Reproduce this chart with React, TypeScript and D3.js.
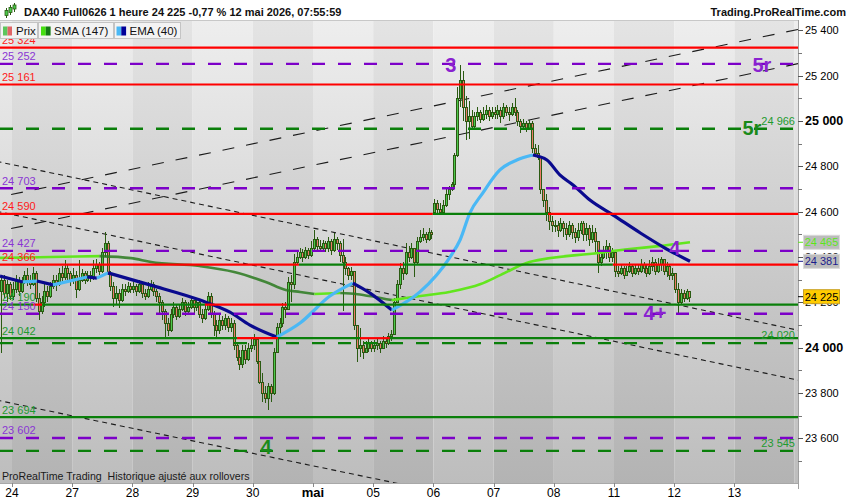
import React from "react";
import * as d3 from "d3";

// ---------- DATA ----------
const dayLabels = ["24", "27", "28", "29", "30", "mai", "05", "06", "07", "08", "11", "12", "13"];
const boldDayLabels = ["mai"];
const PRE_BARS = 4; // last bars of 23 avr visible at the left
const BARS_PER_DAY = 21;

const firstOpen = 24250;
const openOverrides: [number, number][] = [[151, 24600]]; // opening gap of 6 mai

const closes = [
  24300, 24240, 24280, 24230,
  24260, 24300, 24250, 24290, 24320, 24300, 24280, 24330, 24220, 24160, 24200, 24250, 24230, 24270, 24300, 24280, 24330, 24310, 24350, 24330, 24300,
  24320, 24260, 24300, 24330, 24300, 24320, 24310, 24350, 24370, 24340, 24420, 24460, 24330, 24270, 24220, 24240, 24210, 24260, 24250, 24270, 24260,
  24270, 24250, 24280, 24240, 24230, 24260, 24280, 24250, 24230, 24200, 24160, 24110, 24080, 24150, 24180, 24140, 24170, 24200, 24160, 24180, 24210,
  24180, 24200, 24150, 24130, 24170, 24230, 24150, 24100, 24080, 24120, 24100, 24130, 24090, 24110, 24010, 23960, 23930, 23990, 23950, 24000, 24010,
  24040, 23940, 23850, 23800, 23780, 23830, 23800, 23980, 24090, 24110, 24180, 24170, 24290, 24280, 24380, 24400, 24420, 24400, 24430, 24410, 24440,
  24480, 24450, 24440, 24460, 24440, 24470, 24430, 24480, 24460, 24410, 24380, 24350, 24320, 24340, 24100, 24000, 24010, 23980, 24000, 24020, 24000,
  24010, 24020, 24000, 24030, 24020, 24050, 24060, 24200, 24280, 24350, 24330, 24420, 24400, 24440, 24380, 24470, 24490, 24500, 24480, 24510, 24500,
  24640, 24610, 24600, 24630, 24680, 24700, 24720, 24850, 25100, 25180, 25060, 25000, 25020, 24980, 25020, 25040, 25010, 25030, 25050, 25020, 25040,
  25030, 25050, 25020, 25060, 25040, 25030, 25060, 25040, 25000, 24980, 24990, 24970, 24990, 24880, 24860, 24840, 24700, 24650, 24600, 24560, 24540,
  24540, 24520, 24550, 24530, 24500, 24540, 24510, 24490, 24520, 24550, 24500, 24530, 24480, 24510, 24470, 24380, 24400, 24420, 24450, 24400, 24420,
  24340, 24330, 24350, 24320, 24340, 24360, 24330, 24350, 24340, 24370, 24350, 24330, 24360, 24380, 24340, 24370, 24390, 24340, 24360, 24320, 24330,
  24260, 24200, 24240, 24220, 24250, 24225,
];

const highs = [
  24310, 24320, 24300, 24290,
  24290, 24320, 24310, 24310, 24340, 24350, 24320, 24355, 24340, 24240, 24230, 24280, 24270, 24290, 24320, 24320, 24350, 24360, 24385, 24370, 24340,
  24350, 24340, 24385, 24345, 24340, 24340, 24340, 24385, 24390, 24380, 24440, 24510, 24470, 24340, 24290, 24270, 24260, 24280, 24280, 24290, 24285,
  24290, 24280, 24300, 24290, 24260, 24290, 24300, 24290, 24260, 24240, 24210, 24170, 24130, 24170, 24200, 24190, 24190, 24220, 24210, 24200, 24230,
  24210, 24220, 24210, 24170, 24190, 24245, 24240, 24160, 24120, 24150, 24140, 24150, 24140, 24130, 24120, 24020, 23990, 24010, 24010, 24020, 24040,
  24060, 24045, 23940, 23890, 23830, 23845, 23840, 24000, 24110, 24130, 24195, 24200, 24310, 24320, 24415, 24420, 24440, 24435, 24445, 24440, 24470,
  24520, 24490, 24475, 24475, 24470, 24490, 24480, 24505, 24490, 24470, 24480, 24400, 24355, 24355, 24340, 24100, 24085, 24030, 24030, 24040, 24030,
  24035, 24040, 24030, 24050, 24040, 24065, 24080, 24220, 24300, 24375, 24380, 24460, 24450, 24460, 24440, 24490, 24520, 24530, 24510, 24530, 24520,
  24655, 24650, 24640, 24650, 24700, 24715, 24730, 24860, 25150, 25247, 25220, 25110, 25090, 25050, 25040, 25060, 25050, 25060, 25070, 25060, 25060,
  25060, 25070, 25060, 25080, 25070, 25060, 25080, 25100, 25050, 25010, 25010, 25000, 25005, 25000, 24900, 24895, 24840, 24700, 24680, 24620, 24580,
  24565, 24560, 24570, 24560, 24550, 24560, 24550, 24530, 24550, 24560, 24560, 24550, 24540, 24540, 24530, 24470, 24430, 24450, 24475, 24460, 24440,
  24380, 24360, 24370, 24360, 24360, 24380, 24370, 24370, 24370, 24390, 24380, 24370, 24385, 24400, 24390, 24395, 24400, 24390, 24380, 24370, 24350,
  24300, 24285, 24260, 24255, 24260, 24250,
];

const lows = [
  23975, 24220, 24200, 24210,
  24210, 24240, 24230, 24240, 24280, 24270, 24260, 24270, 24200, 24120, 24150, 24180, 24200, 24220, 24260, 24250, 24270, 24290, 24300, 24300, 24270,
  24280, 24220, 24250, 24290, 24280, 24290, 24290, 24300, 24330, 24320, 24330, 24400, 24320, 24250, 24180, 24190, 24175, 24200, 24230, 24240, 24240,
  24240, 24230, 24240, 24220, 24210, 24220, 24250, 24230, 24200, 24150, 24120, 24040, 24050, 24070, 24130, 24120, 24130, 24160, 24140, 24150, 24170,
  24150, 24160, 24130, 24110, 24120, 24160, 24130, 24050, 24040, 24060, 24080, 24080, 24070, 24070, 23990, 23940, 23900, 23910, 23930, 23940, 23980,
  23990, 23930, 23840, 23760, 23755, 23725, 23760, 23790, 23975, 24060, 24090, 24130, 24170, 24200, 24260, 24370, 24390, 24380, 24390, 24390, 24400,
  24430, 24420, 24420, 24430, 24420, 24420, 24410, 24420, 24430, 24380, 24160, 24320, 24300, 24300, 24080, 23935, 23960, 23950, 23975, 23980, 23980,
  23980, 23990, 23975, 23995, 24000, 24010, 24030, 24060, 24195, 24260, 24300, 24320, 24380, 24390, 24310, 24370, 24460, 24470, 24460, 24470, 24480,
  24595, 24595, 24590, 24595, 24620, 24650, 24690, 24710, 24840, 25060, 25000, 24915, 24920, 24960, 24970, 25000, 24990, 25000, 25010, 25000, 25010,
  25010, 25010, 24990, 25010, 25020, 25000, 25020, 25020, 24980, 24945, 24960, 24950, 24960, 24860, 24840, 24830, 24680, 24620, 24560, 24520, 24510,
  24510, 24490, 24510, 24490, 24475, 24490, 24480, 24460, 24470, 24500, 24470, 24470, 24450, 24460, 24420, 24330, 24360, 24390, 24390, 24380, 24380,
  24310, 24310, 24320, 24305, 24315, 24330, 24310, 24320, 24320, 24330, 24330, 24310, 24320, 24340, 24320, 24330, 24340, 24320, 24310, 24300, 24300,
  24240, 24145, 24190, 24200, 24210, 24200,
];

// SMA(147) and EMA(40): [bar, value]
const smaPoints: [number, number][] = [
  [-0.7, 24396], [17, 24400], [34, 24404], [45, 24395], [52, 24378], [69, 24360], [81, 24334], [92, 24290],
  [99, 24255], [104, 24246], [109, 24237], [118, 24241], [124, 24236], [130, 24224], [136, 24210], [146, 24228],
  [156, 24246], [167, 24281], [174, 24321], [184, 24378], [208, 24418], [219, 24435], [229, 24448], [240, 24465],
];
const emaPoints: [number, number][] = [
  [-0.7, 24316], [7.3, 24290], [12.2, 24294], [17.8, 24277], [29.7, 24312], [33.1, 24307], [37, 24330], [51.6, 24277],
  [69.1, 24210], [79.5, 24157], [86.5, 24100], [95.9, 24047], [104, 24109], [114.4, 24228], [122.4, 24285], [128.4, 24241],
  [136, 24166], [145.8, 24246], [156.3, 24400], [159.8, 24475], [163.2, 24594], [167.7, 24682], [173.7, 24784], [179.6, 24828],
  [185.2, 24850], [190.1, 24828], [194.6, 24762], [199.2, 24718], [205.1, 24651], [213.2, 24585], [222.7, 24506], [230.7, 24444],
  [240, 24381],
];

// support / resistance levels
const solidLevels = [25324, 25161, 24590, 24366, 24190, 24042, 23694];
const solidLevelChanges: [number, "up" | "down"][][] = [
  [[-9, "down"]],
  [[-9, "down"]],
  [[-9, "down"], [150.3, "up"], [190.5, "down"]],
  [[-9, "down"], [103.6, "up"], [120.0, "down"], [139.9, "up"], [213.1, "down"]],
  [[-9, "up"], [10.8, "down"], [14.0, "up"], [70.8, "down"], [99.4, "up"]],
  [[-9, "up"], [82.0, "down"], [96.3, "up"], [124.9, "down"], [135.3, "up"]],
  [[-9, "up"]],
];
const purpleLevels = [25252, 24703, 24427, 24150, 23602];
const greenDashLevels = [24966, 24020, 23545];

// trend lines: [bar1, price1, bar2, price2, style]
const trendLines: [number, number, number, number, "long" | "short"][] = [
  [0, 24667, 277, 25402, "long"],
  [0, 24517, 277, 25251, "long"],
  [0, 24817, 277, 24079, "short"],
  [0, 24597, 277, 23859, "short"],
  [0, 23764, 137, 23404, "short"],
];

const waveLabels: { text: string; bar: number; price: number; tone: "purple" | "green" }[] = [
  { text: "3", bar: 156.6, price: 25247, tone: "purple" },
  { text: "5r", bar: 265.1, price: 25247, tone: "purple" },
  { text: "5r", bar: 261.6, price: 24969, tone: "green" },
  { text: "4", bar: 234.7, price: 24440, tone: "purple" },
  { text: "4+", bar: 227.8, price: 24153, tone: "purple" },
  { text: "4", bar: 92.1, price: 23562, tone: "green" },
];

const yLabelTicks = [25400, 25200, 25000, 24800, 24600, 24400, 24200, 24000, 23800, 23600];
const yMinorTicks = [25300, 25100, 24900, 24700, 24500, 24300, 24100, 23900, 23700, 23500];
const yBoldTicks = [25000, 24000];

const headerText = "DAX40 Full0626 1 heure 24 225 -0,77 % 12 mai 2026, 07:55:59";
const siteText = "Trading.ProRealTime.com";
const footerText = "ProRealTime Trading  Historique ajusté aux rollovers";

// ---------- STYLE ----------
const FONT = "'Liberation Sans', Arial, sans-serif";
const RED = "#ff0000";
const GREEN = "#0a7f0a";
const PURPLE = "#7c00c8";
const PURPLE_TXT = "#8a35d4";
const GREEN_TXT = "#1f9a30";
const OUTLINE = "#2b5a12";
const BULL = "#4cc94c";
const BEAR = "#ec7a68";
const EMA_UP = "#4ab8f5";
const EMA_DN = "#0a0a8e";
const SMA_UP = "#62e61e";
const SMA_DN = "#2a7a1e";

const PL = 0, PR = 798, PT = 20, PB = 483;

function fmt(v: number) {
  const s = Math.round(v).toString();
  return s.slice(0, s.length - 3) + " " + s.slice(-3);
}

function runs(pts: [number, number][]) {
  const out: { dir: number; pts: [number, number][] }[] = [];
  let cur: [number, number][] = [pts[0]];
  let dir = Math.sign(pts[1][1] - pts[0][1]);
  for (let i = 1; i < pts.length; i++) {
    const d = Math.sign(pts[i][1] - pts[i - 1][1]);
    if (d !== dir && cur.length > 1) {
      out.push({ dir, pts: cur });
      cur = [pts[i - 1]];
      dir = d;
    }
    cur.push(pts[i]);
  }
  out.push({ dir, pts: cur });
  return out;
}

export default function App() {
  const x = d3.scaleLinear().domain([PRE_BARS, PRE_BARS + BARS_PER_DAY]).range([12, 72.2]);
  const xc = (g: number) => x(g + 0.5);
  const y = d3.scaleLinear().domain([24000, 25400]).range([347.7, 30.3]);

  const nDaysDrawn = dayLabels.length + 1;
  const bands = d3.range(-1, nDaysDrawn).map((d) => ({
    d,
    x0: Math.max(PL, x(PRE_BARS + d * BARS_PER_DAY)),
    x1: Math.min(PR, x(PRE_BARS + (d + 1) * BARS_PER_DAY)),
  }));

  const overrides = new Map(openOverrides);
  const candles = closes.map((c, i) => {
    const o = overrides.has(i) ? (overrides.get(i) as number) : i === 0 ? firstOpen : closes[i - 1];
    const h = Math.max(highs[i], o, c);
    const l = Math.min(lows[i], o, c);
    return { i, o, c, h, l };
  });

  const line = d3
    .line<[number, number]>()
    .x((d) => xc(d[0]))
    .y((d) => y(d[1]))
    .curve(d3.curveMonotoneX);

  const smaRuns = runs(smaPoints);
  const emaRuns = runs(emaPoints);

  const lastClose = closes[closes.length - 1];
  const lastSma = smaPoints[smaPoints.length - 1][1];
  const lastEma = emaPoints[emaPoints.length - 1][1];

  const tl = (t: [number, number, number, number, string]) => {
    const [g1, p1, g2, p2] = t;
    const f = (g: number) => p1 + ((p2 - p1) * (g - g1)) / (g2 - g1);
    return { xa: xc(-5), ya: y(f(-5)), xb: xc(290), yb: y(f(290)) };
  };

  return (
    <div style={{ position: "absolute", left: 0, top: 0 }}>
      <svg width={850} height={500} style={{ display: "block", background: "#fff" }} fontFamily={FONT}>
        <defs>
          <linearGradient id="bgL" gradientUnits="userSpaceOnUse" x1="0" y1={PT} x2="0" y2={PB}>
            <stop offset="0" stopColor="#eeeeee" />
            <stop offset="1" stopColor="#bdbdbd" />
          </linearGradient>
          <linearGradient id="bgD" gradientUnits="userSpaceOnUse" x1="0" y1={PT} x2="0" y2={PB}>
            <stop offset="0" stopColor="#e4e4e4" />
            <stop offset="1" stopColor="#b3b3b3" />
          </linearGradient>
          <clipPath id="plotClip">
            <rect x={PL} y={PT} width={PR - PL} height={PB - PT} />
          </clipPath>
        </defs>

        <rect x={0} y={0} width={850} height={500} fill="#ffffff" />

        {/* background day bands */}
        {bands.map((b) =>
          b.x1 > b.x0 ? (
            <rect key={"b" + b.d} x={b.x0} y={PT} width={b.x1 - b.x0} height={PB - PT}
              fill={b.d >= 0 && b.d % 2 === 0 ? "url(#bgD)" : "url(#bgL)"} />
          ) : null
        )}

        <g clipPath="url(#plotClip)">
          {/* trend lines */}
          {trendLines.map((t, k) => {
            const p = tl(t);
            return (
              <line key={"t" + k} x1={p.xa} y1={p.ya} x2={p.xb} y2={p.yb} stroke="#1c1c1c" strokeWidth={1.1}
                strokeDasharray={t[4] === "long" ? "12 12" : "5 4"} />
            );
          })}

          {/* candles */}
          <g shapeRendering="crispEdges">
            {candles.map((k) => {
              const X = Math.floor(xc(k.i));
              const yt = Math.round(y(Math.max(k.o, k.c)));
              const yb = Math.round(y(Math.min(k.o, k.c)));
              const bh = Math.max(1, yb - yt);
              return (
                <g key={"c" + k.i}>
                  <line x1={X + 0.5} x2={X + 0.5} y1={y(k.h)} y2={y(k.l)} stroke={OUTLINE} strokeWidth={1} />
                  <rect x={X - 0.5} y={yt + 0.5} width={2} height={bh} fill={k.c >= k.o ? BULL : BEAR}
                    stroke={OUTLINE} strokeWidth={1} />
                </g>
              );
            })}
          </g>

          {/* moving averages */}
          {smaRuns.map((r, k) => (
            <path key={"s" + k} d={line(r.pts) || ""} fill="none" stroke={r.dir > 0 ? SMA_UP : SMA_DN}
              strokeWidth={2.6} strokeOpacity={r.dir > 0 ? 1 : 0.85} strokeLinejoin="round" />
          ))}
          {emaRuns.map((r, k) => (
            <path key={"e" + k} d={line(r.pts) || ""} fill="none" stroke={r.dir > 0 ? EMA_UP : EMA_DN}
              strokeWidth={3.2} strokeLinejoin="round" />
          ))}

          {/* dashed levels */}
          {purpleLevels.map((v) => (
            <line key={"pl" + v} x1={PL} x2={PR} y1={y(v)} y2={y(v)} stroke={PURPLE} strokeWidth={2.4} strokeDasharray="13 13" />
          ))}
          {greenDashLevels.map((v) => (
            <line key={"gl" + v} x1={PL} x2={PR} y1={y(v)} y2={y(v)} stroke={GREEN} strokeWidth={2.4} strokeDasharray="13 13" />
          ))}

          {/* solid levels with colour changes */}
          {solidLevels.map((v, li) => {
            const ch = solidLevelChanges[li];
            return ch.map((c, ci) => {
              const xa = ci === 0 ? PL : xc(c[0]);
              const xb = ci === ch.length - 1 ? PR : xc(ch[ci + 1][0]);
              return (
                <line key={"sl" + v + "_" + ci} x1={xa} x2={xb} y1={y(v)} y2={y(v)} stroke={c[1] === "up" ? GREEN : RED} strokeWidth={2.2} />
              );
            });
          })}

          {/* level labels left */}
          {solidLevels.map((v, li) => (
            <text key={"slt" + v} x={2} y={y(v) - 3.5} fontSize={11} fill={solidLevelChanges[li][0][1] === "up" ? GREEN_TXT : "#ff1a1a"}>
              {fmt(v)}
            </text>
          ))}
          {purpleLevels.map((v) => (
            <text key={"plt" + v} x={2} y={y(v) - 3.5} fontSize={11} fill={PURPLE_TXT}>
              {fmt(v)}
            </text>
          ))}
          {greenDashLevels.map((v) => (
            <text key={"glt" + v} x={795} y={y(v) - 4} fontSize={11} fill={GREEN_TXT} textAnchor="end">
              {fmt(v)}
            </text>
          ))}

          {/* wave labels */}
          {waveLabels.map((w, k) => (
            <text key={"w" + k} x={xc(w.bar)} y={y(w.price) + 7} fontSize={20} fontWeight="bold" textAnchor="middle"
              fill={w.tone === "purple" ? "#8a22d0" : "#1a8a1a"}>
              {w.text}
            </text>
          ))}

          <text x={2} y={479.5} fontSize={10.6} fill="#1a1a1a" style={{ whiteSpace: "pre" }}>
            {footerText}
          </text>
        </g>

        {/* axes */}
        <line x1={PR + 0.5} x2={PR + 0.5} y1={PT} y2={PB + 6} stroke="#a0a0a0" strokeWidth={1} />
        <line x1={PL} x2={PR} y1={PB + 0.5} y2={PB + 0.5} stroke="#a8a8a8" strokeWidth={1} />
        <line x1={PL} x2={PR} y1={PT + 0.5} y2={PT + 0.5} stroke="#c8c8c8" strokeWidth={1} />

        {yMinorTicks.map((v) => (
          <line key={"ym" + v} x1={PR} x2={PR + 4} y1={Math.round(y(v)) + 0.5} y2={Math.round(y(v)) + 0.5} stroke="#777" />
        ))}
        {yLabelTicks.map((v) => {
          const b = yBoldTicks.includes(v);
          return (
            <g key={"yl" + v}>
              <line x1={PR} x2={PR + 5} y1={Math.round(y(v)) + 0.5} y2={Math.round(y(v)) + 0.5} stroke="#555" />
              <text x={805} y={y(v) + 4} fontSize={b ? 12.5 : 11} fontWeight={b ? "bold" : "normal"} fill="#000">
                {fmt(v)}
              </text>
            </g>
          );
        })}

        {dayLabels.map((lab, d) => {
          const xx = x(PRE_BARS + d * BARS_PER_DAY);
          const b = boldDayLabels.includes(lab);
          return (
            <g key={"xl" + d}>
              <line x1={Math.round(xx) + 0.5} x2={Math.round(xx) + 0.5} y1={PB} y2={PB + 4} stroke="#888" />
              <text x={xx} y={497} fontSize={b ? 13 : 12} fontWeight={b ? "bold" : "normal"} textAnchor="middle" fill="#000">
                {lab}
              </text>
            </g>
          );
        })}

        {/* value boxes */}
        {[
          { v: lastSma, fill: "#bcbcbc", stroke: "#dadada", txt: "#5ce61a", tick: "#5ce61a" },
          { v: lastEma, fill: "#bcbcbc", stroke: "#dadada", txt: "#1c1c8c", tick: "#1c1c8c" },
          { v: lastClose, fill: "#ffcc00", stroke: "#c9a227", txt: "#000000", tick: "#000000" },
        ].map((bx, k) => (
          <g key={"vb" + k}>
            <line x1={PR} x2={803} y1={y(bx.v)} y2={y(bx.v)} stroke={bx.tick} strokeWidth={1} />
            <rect x={803.5} y={y(bx.v) - 7} width={36} height={14} fill={bx.fill} stroke={bx.stroke} />
            <text x={821.5} y={y(bx.v) + 4} fontSize={11} textAnchor="middle" fill={bx.txt}>
              {fmt(bx.v)}
            </text>
          </g>
        ))}

        {/* header */}
        <rect x={0} y={0} width={850} height={PT} fill="#ffffff" />
        <g>
          <line x1={6.5} x2={6.5} y1={8} y2={18} stroke={OUTLINE} />
          <rect x={5} y={10.5} width={3} height={5} fill={BULL} stroke={OUTLINE} strokeWidth={0.8} />
          <line x1={10.5} x2={10.5} y1={5} y2={15} stroke={OUTLINE} />
          <rect x={9} y={7.5} width={3} height={5} fill={BULL} stroke={OUTLINE} strokeWidth={0.8} />
          <line x1={14.5} x2={14.5} y1={3} y2={12} stroke={OUTLINE} />
          <rect x={13} y={5} width={3} height={4} fill={BULL} stroke={OUTLINE} strokeWidth={0.8} />
        </g>
        <text x={24} y={16} fontSize={11} fontWeight="bold" fill="#111">
          {headerText}
        </text>
        <text x={846} y={16} fontSize={11} fontWeight="bold" fill="#111" textAnchor="end">
          {siteText}
        </text>

        {/* legend */}
        <g fontSize={11.5}>
          <rect x={0.5} y={22.5} width={37} height={16} fill="#f3f3f3" stroke="#c4c4c4" />
          <rect x={3} y={26.5} width={4.5} height={9} fill="#5cc65c" />
          <rect x={7.5} y={26.5} width={4.5} height={9} fill="#e06666" />
          <text x={16} y={34.5} fill="#111">Prix</text>

          <rect x={38.5} y={22.5} width={75} height={16} fill="#f3f3f3" stroke="#c4c4c4" />
          <rect x={41} y={26.5} width={4.8} height={9} fill="#44e010" />
          <rect x={45.8} y={26.5} width={4.8} height={9} fill="#137a13" />
          <text x={54} y={34.5} fill="#111">SMA (147)</text>

          <rect x={114.5} y={22.5} width={66} height={16} fill="#f3f3f3" stroke="#c4c4c4" />
          <rect x={116.5} y={26.5} width={4.8} height={9} fill="#4ab8f5" />
          <rect x={121.3} y={26.5} width={4.8} height={9} fill="#000099" />
          <text x={129.5} y={34.5} fill="#111">EMA (40)</text>
        </g>
      </svg>
    </div>
  );
}
